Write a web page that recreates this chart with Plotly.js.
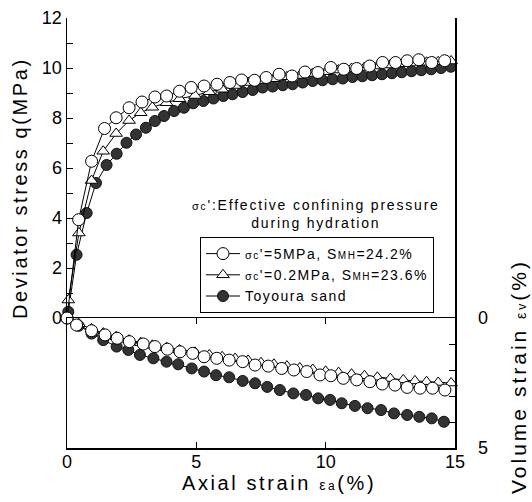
<!DOCTYPE html>
<html>
<head>
<meta charset="utf-8">
<script src="https://cdn.plot.ly/plotly-3.0.1.min.js"></script>
<style>html,body{margin:0;padding:0;background:#fff;}#chart{width:532px;height:502px;}</style>
</head>
<body>
<div id="chart"></div>
<script>
// ---- Data ----
// Upper panel: deviator stress q (MPa) vs axial strain (%)
var q5_x = [0, 0.45, 0.95, 1.45, 1.9, 2.4, 2.9, 3.4, 3.85, 4.35, 4.8, 5.3, 5.8, 6.3, 6.75, 7.25, 7.7, 8.2, 8.7, 9.2, 9.7, 10.2, 10.7, 11.2, 11.7, 12.2, 12.7, 13.15, 13.6, 14.1, 14.6];
var q5_y = [0, 3.93, 6.27, 7.58, 8.01, 8.41, 8.64, 8.84, 8.88, 9.07, 9.22, 9.28, 9.35, 9.42, 9.52, 9.51, 9.62, 9.75, 9.68, 9.84, 9.82, 10.02, 9.95, 9.98, 10.08, 10.22, 10.22, 10.29, 10.33, 10.22, 10.29];

var q02_x = [0.05, 0.46, 0.95, 1.4, 1.9, 2.4, 2.85, 3.3, 3.85, 4.35, 4.95, 5.5, 6.0, 6.5, 7.0, 7.5, 8.0, 8.5, 9.0, 9.5, 10.0, 10.5, 11.0, 11.5, 12.0, 12.5, 13.0, 13.45, 13.9, 14.35, 14.85];
var q02_y = [0.72, 3.4, 5.5, 6.67, 7.38, 7.9, 8.21, 8.43, 8.61, 8.77, 8.9, 9.05, 9.15, 9.3, 9.42, 9.5, 9.57, 9.65, 9.7, 9.78, 9.85, 9.92, 9.98, 10.02, 10.08, 10.12, 10.17, 10.2, 10.23, 10.25, 10.28];

var qT_x = [0.05, 0.37, 0.76, 1.12, 1.53, 1.92, 2.3, 2.67, 3.05, 3.4, 3.75, 4.14, 4.52, 4.88, 5.27, 5.66, 6.04, 6.4, 6.79, 7.18, 7.56, 7.95, 8.34, 8.72, 9.11, 9.5, 9.88, 10.27, 10.66, 11.04, 11.42, 11.8, 12.18, 12.56, 12.94, 13.32, 13.7, 14.08, 14.46, 14.84];
var qT_y = [0.25, 2.53, 4.2, 5.4, 6.12, 6.57, 7.01, 7.34, 7.61, 7.88, 8.08, 8.28, 8.41, 8.59, 8.68, 8.78, 8.88, 8.95, 9.04, 9.12, 9.22, 9.26, 9.31, 9.35, 9.42, 9.48, 9.51, 9.55, 9.58, 9.64, 9.67, 9.71, 9.75, 9.79, 9.83, 9.87, 9.91, 9.95, 10.0, 10.05];

// Lower panel: volume strain (%) vs axial strain (%)
var v5_x = [0, 0.37, 0.95, 1.47, 1.94, 2.41, 2.95, 3.4, 3.88, 4.37, 4.86, 5.3, 5.79, 6.27, 6.79, 7.27, 7.78, 8.3, 8.77, 9.27, 9.78, 10.2, 10.68, 11.2, 11.71, 12.19, 12.68, 13.15, 13.65, 14.13, 14.61];
var v5_y = [0, 0.27, 0.49, 0.65, 0.78, 0.91, 1.0, 1.1, 1.2, 1.3, 1.36, 1.49, 1.55, 1.62, 1.68, 1.81, 1.85, 1.94, 2.0, 2.06, 2.19, 2.22, 2.32, 2.38, 2.45, 2.54, 2.58, 2.67, 2.7, 2.7, 2.77];

var v02_x = [0.05, 0.46, 0.95, 1.4, 1.9, 2.4, 2.85, 3.3, 3.85, 4.35, 4.95, 5.5, 6.0, 6.5, 7.0, 7.5, 8.0, 8.5, 9.0, 9.5, 10.0, 10.5, 11.0, 11.5, 12.0, 12.5, 13.0, 13.45, 13.9, 14.35, 14.85];
var v02_y = [0, 0.22, 0.42, 0.58, 0.72, 0.85, 0.95, 1.05, 1.14, 1.23, 1.32, 1.42, 1.49, 1.56, 1.63, 1.72, 1.78, 1.85, 1.92, 1.98, 2.05, 2.1, 2.16, 2.22, 2.28, 2.33, 2.38, 2.42, 2.45, 2.48, 2.5];

var vT_x = [0, 0.45, 0.95, 1.4, 1.92, 2.37, 2.82, 3.34, 3.85, 4.3, 4.82, 5.3, 5.76, 6.27, 6.79, 7.27, 7.74, 8.23, 8.75, 9.24, 9.71, 10.17, 10.62, 11.13, 11.62, 12.14, 12.64, 13.15, 13.62, 14.1, 14.57];
var vT_y = [0, 0.3, 0.6, 0.85, 1.1, 1.23, 1.42, 1.55, 1.68, 1.78, 1.94, 2.06, 2.2, 2.28, 2.42, 2.51, 2.65, 2.77, 2.9, 2.96, 3.09, 3.15, 3.28, 3.38, 3.47, 3.54, 3.67, 3.73, 3.8, 3.86, 3.99];

var seriesNames = [
  "<span style='letter-spacing:1.5px'><span style='font-size:11px'>σ</span><span style='font-size:10px'>c</span>'=5MPa, S<span style='font-size:10px'>MH</span>=24.2%</span>",
  "<span style='letter-spacing:1.5px'><span style='font-size:11px'>σ</span><span style='font-size:10px'>c</span>'=0.2MPa, S<span style='font-size:10px'>MH</span>=23.6%</span>",
  "<span style='letter-spacing:1.5px'>Toyoura sand</span>"
];
var qTicks = [0,1,2,3,4,5,6,7,8,9,10,11,12];
var qTickText = ['0','','2','','4','','6','','8','','10','','12'];
var vTicks = [0,1,2,3,4,5];
var vTickText = ['0','','','','','5'];
var xTicks = [0,5,10,15];

// ---- Styles ----
var lineStyle = {color:'#000', width:1};
var mOpenCircle = {symbol:'circle', size:12, color:'#fff', line:{color:'#000', width:1}};
var mOpenTri = {symbol:'triangle-up', size:11, color:'#fff', line:{color:'#000', width:1}};
var mFilled = {symbol:'circle', size:11, color:'#333', line:{color:'#111', width:1}};

function tr(x, y, yax, name, marker, show, group) {
  return {x:x, y:y, xaxis:'x', yaxis:yax, name:name, legendgroup:group, showlegend:show,
          mode:'lines+markers', line:lineStyle, marker:marker, cliponaxis:false};
}

var data = [
  tr(qT_x, qT_y, 'y', seriesNames[2], mFilled, true, 'c'),
  tr(q02_x, q02_y, 'y', seriesNames[1], mOpenTri, true, 'b'),
  tr(q5_x, q5_y, 'y', seriesNames[0], mOpenCircle, true, 'a'),
  tr(vT_x, vT_y, 'y2', seriesNames[2], mFilled, false, 'c'),
  tr(v02_x, v02_y, 'y2', seriesNames[1], mOpenTri, false, 'b'),
  tr(v5_x, v5_y, 'y2', seriesNames[0], mOpenCircle, false, 'a')
];

var split = 130/430;
var F = 'Liberation Sans, Arial, sans-serif';
function px2x(p){ return (p-67)/388; }
function px2y(p){ return (448-p)/430; }

var layout = {
  width:532, height:502,
  margin:{l:67, r:77, t:18, b:54},
  paper_bgcolor:'#fff', plot_bgcolor:'#fff',
  font:{family:F, color:'#000', size:18},
  showlegend:true,
  legend:{x:px2x(200), y:px2y(237), xanchor:'left', yanchor:'top',
          bordercolor:'#000', borderwidth:1, bgcolor:'#fff',
          traceorder:'reversed', font:{family:F, size:14, color:'#000'},
          tracegroupgap:0, itemwidth:34},
  xaxis:{domain:[0,1], anchor:'y2', range:[0,15], tickvals:xTicks,
         showline:true, linecolor:'#000', linewidth:1.5, mirror:'ticks',
         ticks:'inside', ticklen:6, tickcolor:'#000', tickwidth:1,
         ticklabelstandoff:-3,
         showgrid:false, zeroline:false, tickfont:{size:18}},
  xaxis2:{overlaying:'x', anchor:'y', range:[0,15], tickvals:xTicks,
          showline:true, linecolor:'#000', linewidth:1.5, mirror:'ticks',
          ticks:'inside', ticklen:6, tickcolor:'#000', tickwidth:1,
          showticklabels:false, showgrid:false, zeroline:false},
  yaxis:{domain:[split,1], anchor:'x', range:[0,12], tickvals:qTicks, ticktext:qTickText,
         showline:true, linecolor:'#000', linewidth:1.5, mirror:true,
         ticks:'inside', ticklen:6, tickcolor:'#000', tickwidth:1,
         showgrid:false, zeroline:false, tickfont:{size:18}},
  yaxis2:{domain:[0,split], anchor:'x', side:'right', range:[5,0], tickvals:vTicks, ticktext:vTickText,
          showline:true, linecolor:'#000', linewidth:1.5, mirror:true,
          ticks:'inside', ticklen:6, tickcolor:'#000', tickwidth:1,
          ticklabelstandoff:18,
          showgrid:false, zeroline:false, tickfont:{size:18}},
  annotations:[
    {xref:'paper', yref:'paper', x:px2x(316), y:px2y(214), xanchor:'center', yanchor:'middle',
     showarrow:false, align:'center', font:{family:F, size:14},
     text:"<span style='letter-spacing:1.8px'><span style='font-size:11px'>σ</span><span style='font-size:10px'>c</span>':Effective confining pressure</span><br><span style='letter-spacing:1.8px'>during hydration</span>"},
    {xref:'paper', yref:'paper', x:px2x(20), y:px2y(188), xanchor:'center', yanchor:'middle',
     showarrow:false, textangle:-90, font:{family:F, size:20},
     text:"<span style='letter-spacing:2.6px'>Deviator stress q(MPa)</span>"},
    {xref:'paper', yref:'paper', x:px2x(518), y:px2y(377), xanchor:'center', yanchor:'middle',
     showarrow:false, textangle:-90, font:{family:F, size:21},
     text:"<span style='letter-spacing:3.0px'>Volume strain <span style='font-size:14px'>ε</span><span style='font-size:12px'>v</span>(%)</span>"},
    {xref:'paper', yref:'paper', x:px2x(279), y:px2y(483), xanchor:'center', yanchor:'middle',
     showarrow:false, font:{family:F, size:20},
     text:"<span style='letter-spacing:2.6px'>Axial strain <span style='font-size:14px'>ε</span><span style='font-size:12px'>a</span>(%)</span>"}
  ]
};

Plotly.newPlot('chart', data, layout, {displayModeBar:false, staticPlot:true});
</script>
</body>
</html>
